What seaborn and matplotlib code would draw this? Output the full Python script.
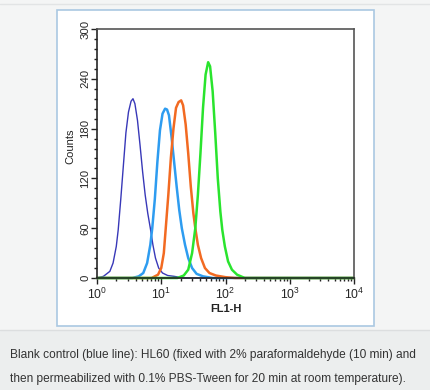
import numpy as np
import pandas as pd
import seaborn as sns
import matplotlib.pyplot as plt
from matplotlib.patches import Rectangle
from matplotlib.ticker import MultipleLocator

# histogram outlines: x in decades (log10 of FL1-H), y = counts
blank_x = [0.00, 0.10, 0.15, 0.20, 0.25, 0.30, 0.33, 0.37, 0.41, 0.45, 0.49, 0.53, 0.56, 0.59, 0.63, 0.67, 0.71, 0.75, 0.79, 0.83, 0.87, 0.91, 0.96, 1.02, 1.10, 1.20, 1.35, 4.00]
blank_y = [0, 2, 5, 8, 18, 38, 58, 95, 135, 175, 200, 213, 216, 210, 190, 160, 128, 100, 78, 60, 40, 24, 12, 6, 3, 2, 0, 0]

iso_x = [0.00, 0.55, 0.65, 0.72, 0.78, 0.83, 0.86, 0.90, 0.94, 0.98, 1.02, 1.06, 1.09, 1.12, 1.16, 1.20, 1.24, 1.28, 1.32, 1.37, 1.42, 1.48, 1.55, 1.65, 1.80, 4.00]
iso_y = [0, 0, 2, 6, 18, 40, 60, 95, 140, 178, 198, 204, 203, 196, 170, 140, 110, 82, 60, 40, 24, 12, 5, 2, 0, 0]

ab1_x = [0.00, 0.85, 0.95, 1.00, 1.04, 1.07, 1.11, 1.15, 1.19, 1.23, 1.27, 1.31, 1.34, 1.38, 1.42, 1.46, 1.50, 1.53, 1.57, 1.62, 1.68, 1.75, 1.85, 2.00, 2.15, 4.00]
ab1_y = [0, 0, 4, 12, 30, 60, 100, 145, 180, 205, 212, 214, 208, 185, 150, 110, 78, 60, 40, 24, 12, 6, 3, 1, 0, 0]

ab2_x = [0.00, 1.25, 1.35, 1.42, 1.48, 1.53, 1.57, 1.61, 1.65, 1.69, 1.73, 1.76, 1.80, 1.84, 1.88, 1.92, 1.95, 1.99, 2.04, 2.10, 2.18, 2.30, 4.00]
ab2_y = [0, 0, 3, 10, 30, 60, 100, 150, 205, 245, 260, 255, 225, 175, 120, 80, 58, 38, 20, 10, 4, 0, 0]

series = ["blank", "isotype", "antibody 1", "antibody 2"]
colors = ["#3838b8", "#2e9cf0", "#f26a22", "#2ae42e"]
widths = [1.0, 1.8, 1.8, 1.8]

frames = []
for name, xs, ys in zip(series, [blank_x, iso_x, ab1_x, ab2_x], [blank_y, iso_y, ab1_y, ab2_y]):
    frames.append(pd.DataFrame({"FL1-H": 10 ** np.array(xs), "Counts": ys, "sample": name}))
df = pd.concat(frames)

sns.set_style("ticks")
plt.rcParams["font.family"] = ["Liberation Sans", "DejaVu Sans"]
plt.rcParams["mathtext.default"] = "regular"

fig = plt.figure(figsize=(4.31, 3.90), dpi=100)
fig.patch.set_facecolor("#f4f5f5")
# caption strip and white picture frame
fig.patches.append(Rectangle((0, 0), 1, 60 / 390, transform=fig.transFigure,
                             facecolor="#eceeee", edgecolor="none", zorder=-2))
fig.add_artist(plt.Line2D([0, 1], [60 / 390, 60 / 390], color="#dcdedf", lw=1, zorder=-1))
fig.add_artist(plt.Line2D([0, 1], [386 / 390, 386 / 390], color="#e2e4e5", lw=1, zorder=-1))
fig.patches.append(Rectangle((57 / 431, 64 / 390), 317 / 431, 316 / 390, transform=fig.transFigure,
                             facecolor="white", edgecolor="#aac8e2", lw=1.2, zorder=-1))

ax = fig.add_axes([97 / 431, 112 / 390, 257 / 431, 249 / 390])
for name, c, w in zip(series, colors, widths):
    sns.lineplot(data=df[df["sample"] == name], x="FL1-H", y="Counts", color=c,
                 lw=w, ax=ax, legend=False, estimator=None, sort=False, clip_on=False)

ax.set_xscale("log")
ax.set_xlim(1, 1e4)
ax.set_ylim(0, 300)
ax.yaxis.set_major_locator(MultipleLocator(60))
ax.yaxis.set_minor_locator(MultipleLocator(12))
ax.tick_params(axis="both", which="major", length=4, width=1, color="#222222")
ax.tick_params(axis="y", which="major", labelsize=8.2, pad=1)
ax.tick_params(axis="x", which="major", labelsize=8.8, pad=2)
ax.tick_params(axis="both", which="minor", length=2, width=1, color="#222222")
plt.setp(ax.get_yticklabels(), rotation=90, va="center")
ax.set_xlabel("FL1-H", fontsize=8, fontweight="bold", color="#222222")
ax.xaxis.set_label_coords(0.5, -0.105)
ax.set_ylabel("Counts", fontsize=8, color="#222222")
ax.yaxis.set_label_coords(-0.083, 0.53)
for side in ["top", "right"]:
    ax.spines[side].set_color("#555555")
for s in ax.spines.values():
    s.set_linewidth(1.2)

fig.text(10 / 431, 35 / 390, "Blank control (blue line): HL60 (fixed with 2% paraformaldehyde (10 min) and",
         fontsize=8.55, color="#333333", va="center")
fig.text(10 / 431, 11 / 390, "then permeabilized with 0.1% PBS-Tween for 20 min at room temperature).",
         fontsize=8.55, color="#333333", va="center")

fig.savefig("out.png", dpi=100, facecolor=fig.get_facecolor())
